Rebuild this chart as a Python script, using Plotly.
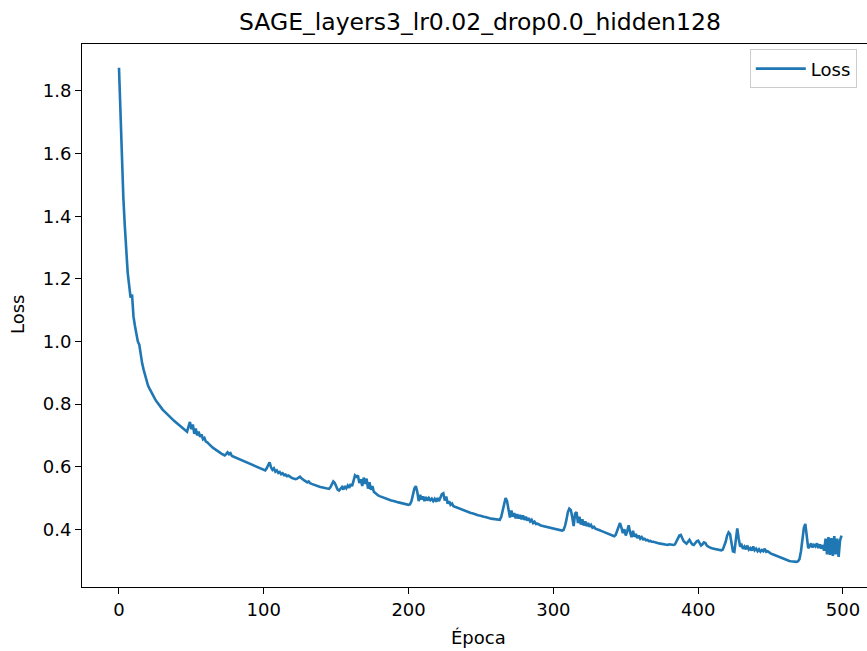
import plotly.graph_objects as go

# Loss per epoch (epochs 0..499)
loss = [
    1.874, 1.72, 1.58, 1.46, 1.37, 1.29, 1.22, 1.18, 1.14, 1.15,
    1.08, 1.05, 1.02, 1.0, 0.99, 0.95, 0.93, 0.91, 0.89, 0.875,
    0.86, 0.85, 0.84, 0.832, 0.823, 0.815, 0.808, 0.801, 0.795, 0.789,
    0.783, 0.778, 0.773, 0.768, 0.763, 0.759, 0.755, 0.751, 0.747, 0.743,
    0.739, 0.735, 0.731, 0.727, 0.723, 0.719, 0.716, 0.712, 0.728, 0.743,
    0.72, 0.735, 0.705, 0.722, 0.70, 0.712, 0.695, 0.703, 0.688, 0.692,
    0.68, 0.678, 0.673, 0.668, 0.664, 0.66, 0.657, 0.653, 0.65, 0.647,
    0.644, 0.641, 0.638, 0.636, 0.64, 0.646, 0.64, 0.643, 0.634, 0.632,
    0.63, 0.627, 0.625, 0.622, 0.62, 0.618, 0.616, 0.614, 0.612, 0.61,
    0.608, 0.606, 0.604, 0.602, 0.6, 0.598, 0.596, 0.594, 0.592, 0.59,
    0.589, 0.588, 0.595, 0.606, 0.614, 0.598, 0.59, 0.595, 0.584, 0.588,
    0.58, 0.583, 0.576, 0.579, 0.573, 0.575, 0.57, 0.572, 0.567, 0.565,
    0.563, 0.562, 0.56, 0.562, 0.566, 0.568, 0.563, 0.558, 0.556, 0.553,
    0.55, 0.553, 0.547, 0.545, 0.543, 0.541, 0.54, 0.538, 0.536, 0.535,
    0.534, 0.533, 0.532, 0.531, 0.53, 0.529, 0.534, 0.545, 0.553, 0.548,
    0.537, 0.527, 0.524, 0.53, 0.535, 0.527, 0.538, 0.531, 0.54, 0.533,
    0.545, 0.538, 0.56, 0.572, 0.568, 0.572, 0.548, 0.56, 0.538, 0.565,
    0.545, 0.562, 0.53, 0.55, 0.526, 0.538, 0.52, 0.515, 0.51, 0.508,
    0.506, 0.504, 0.502, 0.5, 0.498, 0.497, 0.495, 0.494, 0.492, 0.491,
    0.489, 0.488, 0.487, 0.486, 0.485, 0.484, 0.482, 0.481, 0.48, 0.479,
    0.478, 0.48, 0.49, 0.51, 0.53, 0.538, 0.52, 0.49, 0.51, 0.495,
    0.505, 0.49, 0.503, 0.492, 0.5, 0.493, 0.498, 0.49, 0.497, 0.488,
    0.5, 0.49, 0.505, 0.512, 0.515, 0.492, 0.505, 0.482, 0.49, 0.478,
    0.482, 0.474, 0.472, 0.47, 0.468, 0.467, 0.465, 0.463, 0.461, 0.459,
    0.457, 0.455, 0.454, 0.452, 0.451, 0.449, 0.448, 0.446, 0.445, 0.444,
    0.442, 0.441, 0.44, 0.439, 0.437, 0.436, 0.435, 0.434, 0.433, 0.432,
    0.431, 0.43, 0.429, 0.43, 0.44, 0.46, 0.485, 0.5, 0.49, 0.46,
    0.438, 0.46, 0.44, 0.452, 0.435, 0.448, 0.434, 0.446, 0.432, 0.444,
    0.43, 0.44, 0.428, 0.436, 0.425, 0.43, 0.42, 0.424, 0.417, 0.418,
    0.414, 0.413, 0.411, 0.41, 0.408, 0.407, 0.406, 0.405, 0.404, 0.403,
    0.402, 0.401, 0.4, 0.399, 0.398, 0.397, 0.396, 0.398, 0.41, 0.43,
    0.455, 0.466, 0.462, 0.44, 0.41, 0.45, 0.455, 0.42, 0.44, 0.415,
    0.432, 0.412, 0.425, 0.41, 0.42, 0.408, 0.414, 0.405, 0.408, 0.402,
    0.401, 0.399, 0.397, 0.395, 0.393, 0.391, 0.39, 0.388, 0.386, 0.384,
    0.382, 0.38, 0.378, 0.382, 0.395, 0.412, 0.42, 0.405, 0.388, 0.4,
    0.38, 0.395, 0.413, 0.39, 0.375, 0.395, 0.376, 0.385, 0.372, 0.38,
    0.37, 0.375, 0.368, 0.37, 0.365, 0.366, 0.362, 0.363, 0.36, 0.36,
    0.358, 0.357, 0.356, 0.355, 0.354, 0.353, 0.352, 0.352, 0.351, 0.35,
    0.352, 0.351, 0.35, 0.35, 0.352, 0.36, 0.37, 0.38, 0.382, 0.372,
    0.362, 0.358, 0.354, 0.36, 0.366, 0.358, 0.352, 0.35, 0.356, 0.362,
    0.364, 0.355, 0.348, 0.352, 0.358, 0.356, 0.348, 0.345, 0.342, 0.34,
    0.339, 0.338, 0.336, 0.335, 0.334, 0.333, 0.333, 0.335, 0.345, 0.36,
    0.38, 0.39, 0.385, 0.36, 0.33, 0.328, 0.37, 0.403, 0.37, 0.345,
    0.35, 0.338, 0.345, 0.336, 0.348, 0.335, 0.34, 0.332, 0.345, 0.333,
    0.338, 0.33, 0.336, 0.329, 0.334, 0.33, 0.338, 0.328, 0.33, 0.325,
    0.323, 0.321, 0.319, 0.317, 0.315, 0.313, 0.311, 0.309, 0.307, 0.305,
    0.303, 0.302, 0.3, 0.299, 0.298, 0.297, 0.297, 0.296, 0.296, 0.298,
    0.305, 0.33, 0.37, 0.405, 0.417, 0.38, 0.34, 0.345, 0.355, 0.342,
    0.35, 0.345, 0.355, 0.34, 0.352, 0.338, 0.35, 0.332, 0.37, 0.32,
    0.375, 0.318, 0.372, 0.315, 0.378, 0.32, 0.37, 0.312, 0.365, 0.38,
]
epochs = list(range(len(loss)))

x_ticks = [0, 100, 200, 300, 400, 500]
y_ticks = [0.4, 0.6, 0.8, 1.0, 1.2, 1.4, 1.6, 1.8]
y_tick_text = ["0.4", "0.6", "0.8", "1.0", "1.2", "1.4", "1.6", "1.8"]

title_text = "SAGE_layers3_lr0.02_drop0.0_hidden128"
x_label = "Época"
y_label = "Loss"
series_name = "Loss"

FONT = "DejaVu Sans"

fig = go.Figure()
fig.add_trace(go.Scatter(
    x=epochs, y=loss, mode="lines", name=series_name,
    line=dict(color="#1f77b4", width=2.6),
))

fig.update_layout(
    width=867, height=651,
    margin=dict(l=82, r=0, t=44, b=64),
    paper_bgcolor="white", plot_bgcolor="white",
    font=dict(family=FONT, size=18, color="#000000"),
    showlegend=True,
    title=dict(text=title_text, x=0.5535, xref="container", xanchor="center",
               y=1 - 22 / 651, yref="container", yanchor="middle",
               font=dict(family=FONT, size=23.5, color="#000000")),
    legend=dict(x=0.987, y=0.99, xanchor="right", yanchor="top",
                itemwidth=50,
                bgcolor="rgba(255,255,255,0.8)", bordercolor="#cccccc", borderwidth=1,
                font=dict(family=FONT, size=18, color="#000000")),
    xaxis=dict(range=[-25.55, 516.6], tickvals=x_ticks, ticks="outside", ticklen=6,
               tickwidth=1.1, tickcolor="#000000", showline=True, linecolor="#000000",
               linewidth=1.1, mirror=True, showgrid=False, zeroline=False,
               tickfont=dict(family=FONT, size=18, color="#000000")),
    yaxis=dict(range=[0.2157, 1.9501], tickvals=y_ticks, ticktext=y_tick_text,
               ticks="outside", ticklen=6, tickwidth=1.1, tickcolor="#000000",
               showline=True, linecolor="#000000", linewidth=1.1, mirror=False,
               showgrid=False, zeroline=False,
               tickfont=dict(family=FONT, size=18, color="#000000")),
    annotations=[
        dict(text=x_label, xref="paper", yref="paper", x=0.5045, y=-0.0939,
             xanchor="center", yanchor="middle", showarrow=False,
             font=dict(family=FONT, size=18, color="#000000")),
        dict(text=y_label, xref="paper", yref="paper", x=-0.0815, y=0.501,
             xanchor="center", yanchor="middle", showarrow=False, textangle=-90,
             font=dict(family=FONT, size=18, color="#000000")),
    ],
)

fig.write_html("out.html")
